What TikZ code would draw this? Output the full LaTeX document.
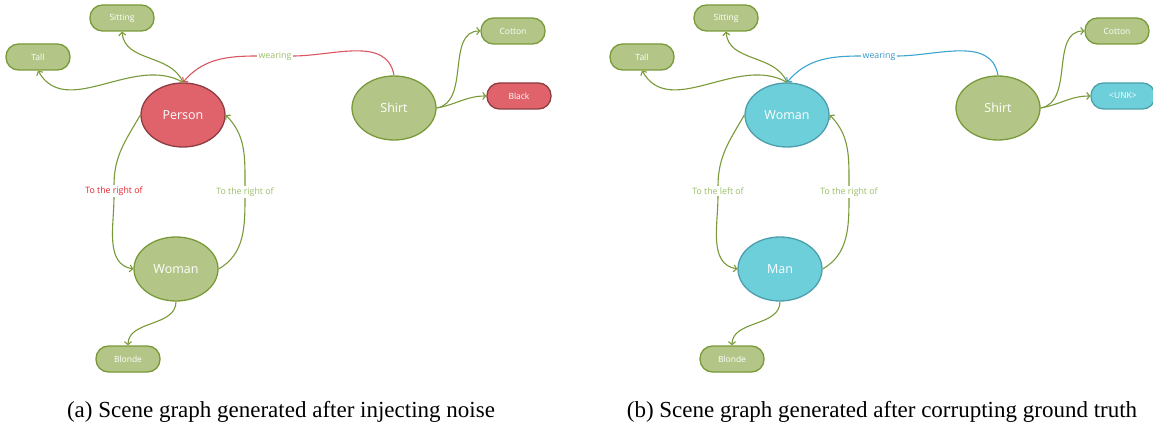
\documentclass[tikz,border=0pt]{standalone}
\usepackage{fontspec}
\setmainfont{Liberation Serif}
\newfontfamily\graphfont{Open Sans}
\usetikzlibrary{arrows.meta, shapes.geometric, positioning}
\definecolor{gFill}{HTML}{B3C687}
\definecolor{gLine}{HTML}{799A38}
\definecolor{gText}{HTML}{98BD66}
\definecolor{rFill}{HTML}{E0626B}
\definecolor{rLine}{HTML}{8C3C42}
\definecolor{rEdge}{HTML}{D95560}
\definecolor{rText}{HTML}{E8202A}
\definecolor{bFill}{HTML}{6DCFDA}
\definecolor{bLine}{HTML}{4D9EAC}
\definecolor{bEdge}{HTML}{3BA5CE}
\definecolor{bText}{HTML}{3596C6}
\tikzset{
    pillG/.style={draw=gLine, fill=gFill, line width=1.3pt, rounded corners=12.5pt,
        minimum width=64pt, minimum height=26pt, inner sep=0pt, text=white,
        font=\graphfont\fontsize{8.5}{9}\selectfont},
    pillR/.style={pillG, draw=rLine, fill=rFill},
    pillB/.style={pillG, draw=bLine, fill=bFill},
    blobG/.style={ellipse, draw=gLine, fill=gFill, line width=1.3pt,
        minimum width=84pt, minimum height=64pt, inner sep=0pt, text=white,
        font=\graphfont\fontsize{12.5}{14}\selectfont},
    blobR/.style={blobG, draw=rLine, fill=rFill},
    blobB/.style={blobG, draw=bLine, fill=bFill},
    edgeG/.style={draw=gLine, line width=1.1pt, -{Straight Barb[length=3pt,width=7pt]}},
    edgeR/.style={edgeG, draw=rEdge},
    edgeB/.style={edgeG, draw=bEdge},
    lblG/.style={text=gText, font=\graphfont\fontsize{8.8}{9}\selectfont, inner sep=1.5pt},
    lblR/.style={lblG, text=rText},
    lblB/.style={lblG, text=bText},
    caption/.style={font=\fontsize{23}{26}\selectfont, inner sep=0pt}
}

\begin{document}
\begin{tikzpicture}[x=1pt, y=-1pt]
    \useasboundingbox (0,0) rectangle (1153,427);
    % (a) injecting noise
    \begin{scope}
    \node[pillG] (sitA) at (122,18) {Sitting};
    \node[pillG] (tallA) at (38,57) {Tall};
    \node[blobR] (perA) at (183,115) {Person};
    \node[blobG] (shirtA) at (394,108) {Shirt};
    \node[pillG] (cotA) at (513,31) {Cotton};
    \node[pillR] (blackA) at (519,96) {Black};
    \node[blobG] (womA) at (176,269) {Woman};
    \node[pillG] (blondeA) at (128,359) {Blonde};
    \node[lblG] (wearA) at (275,56) {wearing};
    \node[lblR] (leftA) at (114,191) {To the right of};
    \node[lblG] (rightA) at (245,192) {To the right of};
    \draw[edgeG] (perA.north) to[out=112,in=-85] (sitA.south);
    \draw[edgeG] (perA.north) to[out=150,in=-60] (tallA.south);
    \draw[edgeR, -] (shirtA.north) to[out=100,in=0] (wearA.east);
    \draw[edgeR] (wearA.west) to[out=180,in=50] (perA.north);
    \draw[edgeG, -] (perA.west) to[out=-120,in=90] (leftA.north);
    \draw[edgeG] (leftA.south) to[out=-90,in=170] (womA.west);
    \draw[edgeG, -] (womA.east) to[out=30,in=-90] (rightA.south);
    \draw[edgeG] (rightA.north) to[out=90,in=-45] (perA.east);
    \draw[edgeG] (womA.south) to[out=-90,in=90] (blondeA.north);
    \draw[edgeG] (shirtA.east) to[out=10,in=180] (cotA.west);
    \draw[edgeG] (shirtA.east) to[out=10,in=180] (blackA.west);
    \end{scope}
    % (b) corrupting ground truth
    \begin{scope}[xshift=604pt]
    \node[pillG] (sitB) at (122,18) {Sitting};
    \node[pillG] (tallB) at (38,57) {Tall};
    \node[blobB] (womB) at (183,115) {Woman};
    \node[blobG] (shirtB) at (394,108) {Shirt};
    \node[pillG] (cotB) at (513,31) {Cotton};
    \node[pillB] (unkB) at (519,96) {<UNK>};
    \node[blobB] (manB) at (176,269) {Man};
    \node[pillG] (blondeB) at (128,359) {Blonde};
    \node[lblB] (wearB) at (275,56) {wearing};
    \node[lblG] (leftB) at (114,191) {To the left of};
    \node[lblG] (rightB) at (245,192) {To the right of};
    \draw[edgeG] (womB.north) to[out=112,in=-85] (sitB.south);
    \draw[edgeG] (womB.north) to[out=150,in=-60] (tallB.south);
    \draw[edgeB, -] (shirtB.north) to[out=100,in=0] (wearB.east);
    \draw[edgeB] (wearB.west) to[out=180,in=50] (womB.north);
    \draw[edgeG, -] (womB.west) to[out=-120,in=90] (leftB.north);
    \draw[edgeG] (leftB.south) to[out=-90,in=170] (manB.west);
    \draw[edgeG, -] (manB.east) to[out=30,in=-90] (rightB.south);
    \draw[edgeG] (rightB.north) to[out=90,in=-45] (womB.east);
    \draw[edgeG] (manB.south) to[out=-90,in=90] (blondeB.north);
    \draw[edgeG] (shirtB.east) to[out=10,in=180] (cotB.west);
    \draw[edgeG] (shirtB.east) to[out=10,in=180] (unkB.west);
    \end{scope}
    \node[caption] (capA) at (281,412) {(a) Scene graph generated after injecting noise};
    \node[caption] (capB) at (882,412) {(b) Scene graph generated after corrupting ground truth};
\end{tikzpicture}
\end{document}
